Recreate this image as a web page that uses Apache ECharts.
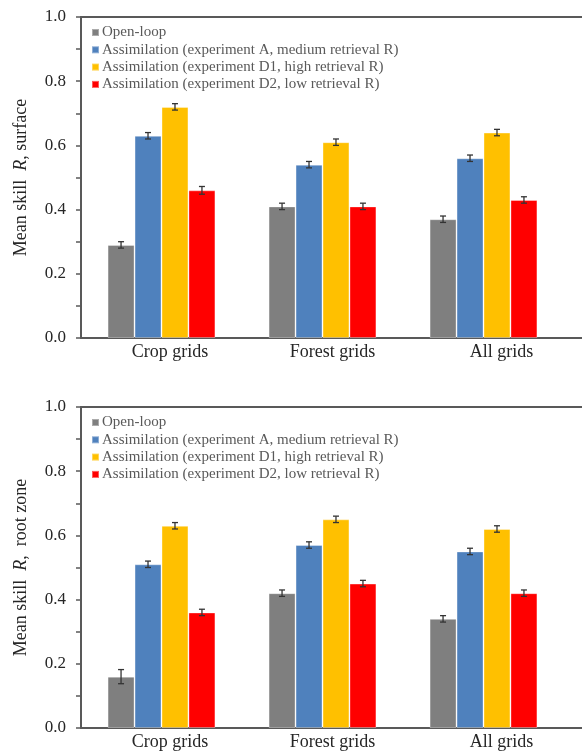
<!DOCTYPE html>
<html>
<head>
<meta charset="utf-8">
<script src="https://cdn.jsdelivr.net/npm/echarts@6/dist/echarts.min.js"></script>
<style>
  html, body { margin: 0; padding: 0; background: #fff; }
  #chart { width: 582px; height: 751px; }
</style>
</head>
<body>
<div id="chart"></div>
<script>
// Categories and series
const categories = ['Crop grids', 'Forest grids', 'All grids'];
const seriesNames = [
  'Open-loop',
  'Assimilation (experiment A, medium retrieval R)',
  'Assimilation (experiment D1, high retrieval R)',
  'Assimilation (experiment D2, low retrieval R)'
];
const seriesColors = ['#7f7f7f', '#4f81bd', '#ffc000', '#ff0000'];
const yTicks = [0, 0.1, 0.2, 0.3, 0.4, 0.5, 0.6, 0.7, 0.8, 0.9, 1.0];

// Surface skill (mean R) and error half-widths
const surfaceOpenLoop = [0.29, 0.41, 0.37];
const surfaceExpA     = [0.63, 0.54, 0.56];
const surfaceExpD1    = [0.72, 0.61, 0.64];
const surfaceExpD2    = [0.46, 0.41, 0.43];
const surfaceErrOpenLoop = [0.010, 0.010, 0.010];
const surfaceErrExpA     = [0.010, 0.010, 0.010];
const surfaceErrExpD1    = [0.010, 0.010, 0.010];
const surfaceErrExpD2    = [0.012, 0.010, 0.010];

// Root-zone skill (mean R) and error half-widths
const rootOpenLoop = [0.16, 0.42, 0.34];
const rootExpA     = [0.51, 0.57, 0.55];
const rootExpD1    = [0.63, 0.65, 0.62];
const rootExpD2    = [0.36, 0.45, 0.42];
const rootErrOpenLoop = [0.022, 0.010, 0.010];
const rootErrExpA     = [0.010, 0.010, 0.010];
const rootErrExpD1    = [0.010, 0.010, 0.010];
const rootErrExpD2    = [0.010, 0.010, 0.010];

const FONT = '"Liberation Serif", "Times New Roman", serif';
const AXIS_COLOR = '#595959';
const TEXT_COLOR = '#262626';
const CAT_GAP = 0.33;

// category labels sit a little right of their bar groups
const catLabelStyles = {
  c0: { fontFamily: FONT, fontSize: 18, color: TEXT_COLOR, padding: [0, 0, 0, 17] },
  c1: { fontFamily: FONT, fontSize: 18, color: TEXT_COLOR, padding: [0, 0, 0, 20] },
  c2: { fontFamily: FONT, fontSize: 18, color: TEXT_COLOR, padding: [0, 0, 0, 36] }
};

const panels = [
  {
    top: 17, titleMain: 'Mean skill  ', titleTail: ', surface',
    values: [surfaceOpenLoop, surfaceExpA, surfaceExpD1, surfaceExpD2],
    errors: [surfaceErrOpenLoop, surfaceErrExpA, surfaceErrExpD1, surfaceErrExpD2],
    legendTop: 25
  },
  {
    top: 407, titleMain: 'Mean skill  ', titleTail: ',  root zone',
    values: [rootOpenLoop, rootExpA, rootExpD1, rootExpD2],
    errors: [rootErrOpenLoop, rootErrExpA, rootErrExpD1, rootErrExpD2],
    legendTop: 415
  }
];

const grid = [], xAxis = [], yAxis = [], series = [], legend = [];

panels.forEach((p, pi) => {
  const frameGrid = grid.length;
  grid.push({ left: 81, right: -4, top: p.top, height: 321 });
  const barGrid = grid.length;
  grid.push({ left: 81, width: 483, top: p.top, height: 321 });

  // frame: bottom axis line and top border across full width
  xAxis.push({
    type: 'value', gridIndex: frameGrid, min: 0, max: 1, position: 'bottom',
    axisLine: { show: true, lineStyle: { color: AXIS_COLOR, width: 2 } },
    axisTick: { show: false }, axisLabel: { show: false }, splitLine: { show: false }
  });
  xAxis.push({
    type: 'value', gridIndex: frameGrid, min: 0, max: 1, position: 'top',
    axisLine: { show: true, lineStyle: { color: AXIS_COLOR, width: 2 } },
    axisTick: { show: false }, axisLabel: { show: false }, splitLine: { show: false }
  });
  // value axis with labels on every 0.2 and ticks on every 0.1
  yAxis.push({
    type: 'value', gridIndex: frameGrid, min: yTicks[0], max: yTicks[yTicks.length - 1], interval: 0.1,
    axisLine: { show: true, lineStyle: { color: AXIS_COLOR, width: 2 } },
    axisTick: { show: true, inside: false, length: 5, lineStyle: { color: AXIS_COLOR, width: 1.5 } },
    axisLabel: {
      margin: 15, fontFamily: FONT, fontSize: 17, color: TEXT_COLOR,
      formatter: v => (Math.round(v * 10) % 2 === 0 ? v.toFixed(1) : '')
    },
    splitLine: { show: false },
    name: '{a|' + p.titleMain + '}{i|R}{a|' + p.titleTail + '}',
    nameLocation: 'middle', nameGap: 51, nameRotate: 90,
    nameTextStyle: {
      rich: {
        a: { fontFamily: FONT, fontSize: 18, color: TEXT_COLOR },
        i: { fontFamily: FONT, fontSize: 18, color: TEXT_COLOR, fontStyle: 'italic' }
      }
    }
  });

  // category axis for bars
  const catAxis = xAxis.length;
  xAxis.push({
    type: 'category', gridIndex: barGrid, data: categories,
    axisLine: { show: false }, axisTick: { show: false },
    axisLabel: {
      margin: 5, fontFamily: FONT, fontSize: 18, color: TEXT_COLOR,
      formatter: (v, i) => '{c' + i + '|' + v + '}',
      rich: catLabelStyles
    }
  });
  const valAxis = yAxis.length;
  yAxis.push({ type: 'value', gridIndex: barGrid, min: 0, max: 1, show: false });

  seriesNames.forEach((name, si) => {
    series.push({
      type: 'bar', name, xAxisIndex: catAxis, yAxisIndex: valAxis,
      data: p.values[si], barGap: '0%', barCategoryGap: (CAT_GAP * 100) + '%',
      itemStyle: { color: seriesColors[si], borderColor: 'rgba(255,255,255,0.35)', borderWidth: 1 },
      z: 2
    });
  });

  // error bars drawn at the centre of each bar
  seriesNames.forEach((name, si) => {
    const data = p.values[si].map((v, ci) => [ci, v, p.errors[si][ci]]);
    series.push({
      type: 'custom', xAxisIndex: catAxis, yAxisIndex: valAxis, data, z: 5,
      silent: true, tooltip: { show: false },
      renderItem: (params, api) => {
        const ci = api.value(0), v = api.value(1), e = api.value(2);
        const band = api.size([1, 0])[0];
        const bw = band * (1 - CAT_GAP) / seriesNames.length;
        const cx = api.coord([ci, v])[0] + (si - (seriesNames.length - 1) / 2) * bw;
        const yHi = api.coord([ci, v + e])[1];
        const yLo = api.coord([ci, v - e])[1];
        const cap = 3;
        const style = { stroke: '#333', lineWidth: 1.3 };
        return {
          type: 'group',
          children: [
            { type: 'line', shape: { x1: cx, y1: yHi, x2: cx, y2: yLo }, style },
            { type: 'line', shape: { x1: cx - cap, y1: yHi, x2: cx + cap, y2: yHi }, style },
            { type: 'line', shape: { x1: cx - cap, y1: yLo, x2: cx + cap, y2: yLo }, style }
          ]
        };
      }
    });
  });

  legend.push({
    orient: 'vertical', left: 91, top: p.legendTop, padding: 0,
    itemGap: 2.3, itemWidth: 7, itemHeight: 7, icon: 'rect',
    data: seriesNames,
    textStyle: { fontFamily: FONT, fontSize: 15, color: '#595959', padding: [0, 0, 0, -2], lineHeight: 15 },
    selectedMode: false
  });
});

const chart = echarts.init(document.getElementById('chart'), null, { renderer: 'canvas' });
chart.setOption({
  animation: false,
  backgroundColor: '#ffffff',
  grid, xAxis, yAxis, series, legend
});
</script>
</body>
</html>
